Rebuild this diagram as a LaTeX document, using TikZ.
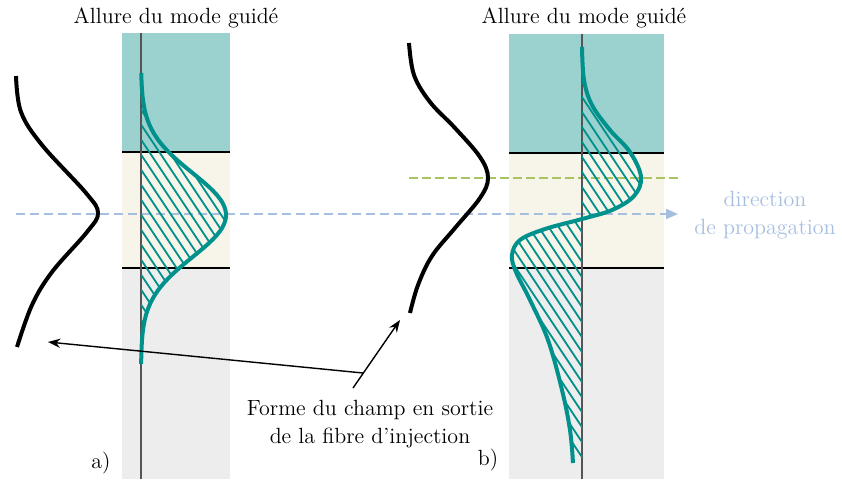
\documentclass[tikz,border=0pt]{standalone}
\usepackage{fontspec}
\usepackage{xcolor}
\usetikzlibrary{arrows.meta,positioning}

\definecolor{clad}{RGB}{155,209,206}
\definecolor{core}{RGB}{247,245,234}
\definecolor{subst}{RGB}{237,237,237}
\definecolor{modecol}{RGB}{0,145,140}
\definecolor{axiscol}{RGB}{85,85,85}
\definecolor{propcol}{RGB}{166,190,224}
\definecolor{maxcol}{RGB}{168,196,96}

\tikzset{
    layerline/.style={black, line width=1.3pt},
    fibreaxis/.style={axiscol, line width=1.3pt},
    modeline/.style={modecol, line width=2pt, line join=round},
    hatchline/.style={modecol, line width=0.9pt},
    incfield/.style={black, line width=2pt, line join=round},
    txt/.style={font=\rmfamily\fontsize{11}{14}\selectfont, inner sep=1pt}
}

% guided mode of panel b (first order)
\newcommand{\modeb}{plot[smooth, tension=0.6] coordinates {(582,47) (584,80) (592,105) (610,130)
    (630,152) (641,177) (634,196) (612,210) (582,219) (545,229) (520,240) (512,255) (516,272)
    (530,300) (548,340) (562,390) (570,430) (573,463)}}

\begin{document}
\begin{tikzpicture}[x=0.5pt, y=-0.5pt, >=Stealth]
    \useasboundingbox (0,0) rectangle (842,479);

    % a) fibre layers
    \fill[clad] (122,33) rectangle (230,152);
    \fill[core] (122,152) rectangle (230,268);
    \fill[subst] (122,268) rectangle (230,479);
    \draw[layerline] (122,152) -- (230,152);
    \draw[layerline] (122,268) -- (230,268);

    % b) fibre layers
    \fill[clad] (509,34) rectangle (664,153);
    \fill[core] (509,153) rectangle (664,268);
    \fill[subst] (509,268) rectangle (664,479);
    \draw[layerline] (509,153) -- (664,153);
    \draw[layerline] (509,268) -- (664,268);

    % dashed lines
    \coordinate (maxl) at (409,178);
    \coordinate (maxr) at (680,178);
    \coordinate (propl) at (16,214);
    \coordinate (propr) at (678,214);
    \draw[maxcol, line width=1pt, dash pattern=on 4.5pt off 2pt] (maxl) -- (maxr);
    \draw[propcol, line width=1pt, dash pattern=on 4.5pt off 2.5pt,
        -{Triangle[length=6pt, width=5pt]}] (propl) -- (propr);

    % axes
    \draw[fibreaxis] (141,33) -- (141,479);
    \draw[fibreaxis] (582,34) -- (582,479);

    % a) guided mode, hatched
    \begin{scope}
        \clip plot[domain=73:364, samples=80] ({141+85*exp(-((\x-215)/59.4)^2)}, \x) -- cycle;
        \foreach \c in {-170,-160,...,240}
            \draw[hatchline] (\c,33) -- (\c+300,483);
    \end{scope}
    \draw[modeline] plot[domain=73:364, samples=80] ({141+85*exp(-((\x-215)/59.4)^2)}, \x);

    % b) guided mode, hatched
    \begin{scope}
        \clip \modeb -- (582,463) -- cycle;
        \foreach \c in {300,310,...,700}
            \draw[hatchline] (\c,34) -- (\c+300,484);
    \end{scope}
    \draw[modeline] \modeb;

    % injected fields
    \draw[incfield] plot[smooth, tension=0.6] coordinates {(16,76) (21,112) (42,145) (86,193)
        (98,213) (87,232) (52,272) (32,305) (17,347)};
    \draw[incfield] plot[smooth, tension=0.6] coordinates {(409,43) (414,75) (430,102) (455,128)
        (480,157) (488,178) (480,198) (455,228) (432,256) (418,285) (410,313)};

    % texts
    \node[txt] (titlea) at (176,18) {Allure du mode guidé};
    \node[txt] (titleb) at (584,18) {Allure du mode guidé};
    \node[txt, text=propcol, align=center] (prop) at (765,215) {direction\\de propagation};
    \node[txt, align=center] (lbl) at (370,424) {Forme du champ en sortie\\de la fibre d’injection};
    \node[txt] (taga) at (101,463) {a)};
    \node[txt] (tagb) at (488,460) {b)};

    % pointers
    \coordinate (jct) at (363,373);
    \coordinate (foot) at (353,388);
    \coordinate (tipa) at (48,342);
    \coordinate (tipb) at (400,320);
    \draw[->, line width=0.7pt] (jct) -- (tipa);
    \draw[->, line width=0.7pt] (foot) -- (tipb);
\end{tikzpicture}
\end{document}
